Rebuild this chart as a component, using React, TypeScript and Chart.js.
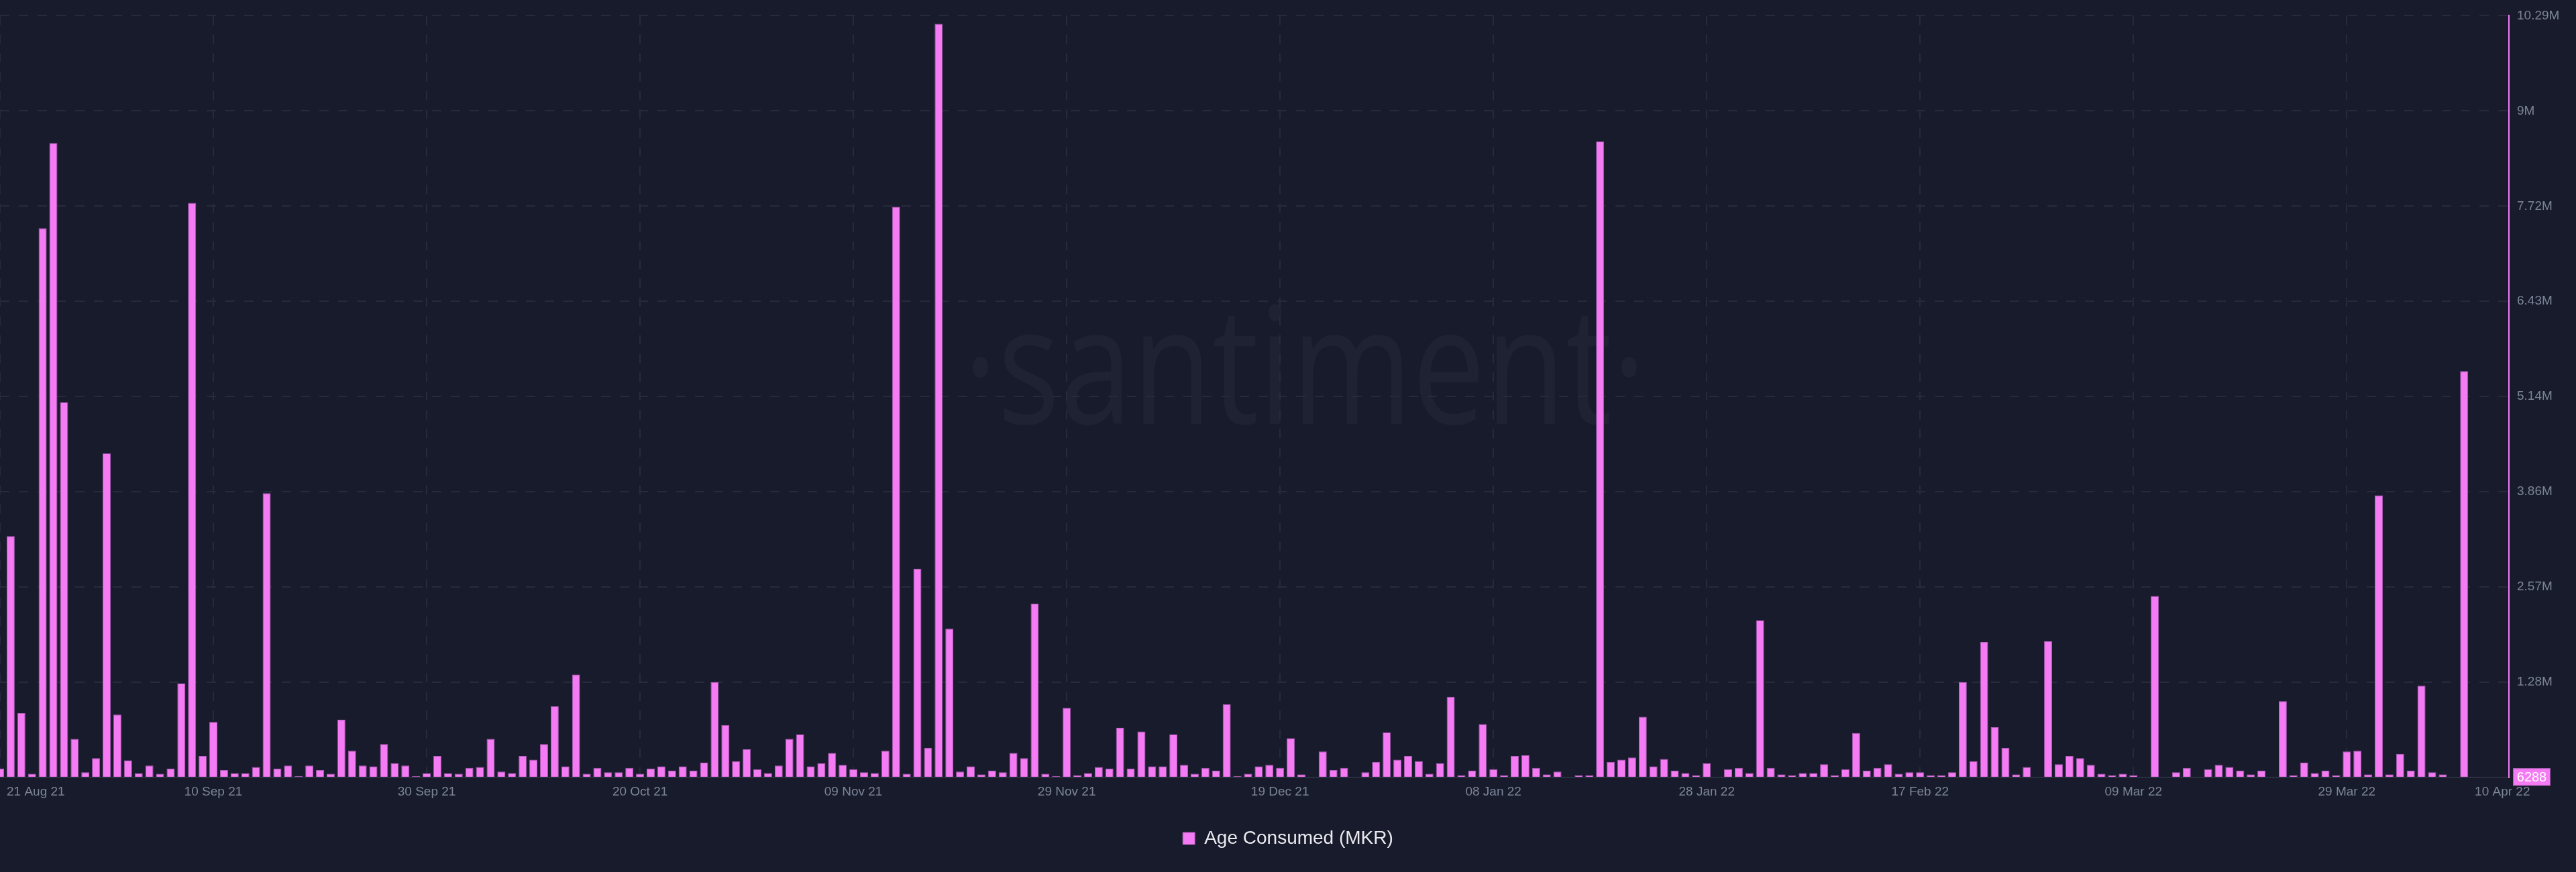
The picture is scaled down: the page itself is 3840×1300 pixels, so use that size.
import React, { useEffect, useRef } from 'react';
import { Chart, registerables } from 'chart.js';

Chart.register(...registerables);

// ---- data ----
const seriesLabel = 'Age Consumed (MKR)';
const startDate = '2021-08-21';

// daily Age Consumed (MKR), 21 Aug 21 .. 10 Apr 22
const ageConsumed: number[] = [
  120000, 3260000, 870000, 50000, 7420000, 8570000, 5070000, 520000, 70000, 260000,
  4380000, 850000, 230000, 55000, 160000, 50000, 120000, 1270000, 7760000, 290000,
  750000, 100000, 55000, 55000, 140000, 3840000, 120000, 160000, 20000, 160000,
  100000, 50000, 780000, 360000, 160000, 150000, 450000, 190000, 160000, 20000,
  55000, 290000, 55000, 50000, 130000, 140000, 520000, 80000, 60000, 290000,
  240000, 450000, 960000, 150000, 1390000, 50000, 130000, 70000, 70000, 130000,
  50000, 120000, 150000, 90000, 150000, 90000, 200000, 1290000, 710000, 220000,
  380000, 110000, 60000, 160000, 520000, 580000, 150000, 190000, 330000, 170000,
  110000, 70000, 60000, 360000, 7710000, 50000, 2820000, 400000, 10180000, 2010000,
  80000, 150000, 40000, 90000, 70000, 330000, 260000, 2350000, 50000, 20000,
  940000, 30000, 60000, 140000, 120000, 670000, 120000, 620000, 150000, 150000,
  580000, 170000, 50000, 130000, 90000, 990000, 20000, 50000, 150000, 170000,
  130000, 530000, 40000, 10000, 350000, 100000, 130000, 10000, 70000, 210000,
  610000, 240000, 290000, 220000, 50000, 190000, 1090000, 30000, 90000, 720000,
  110000, 30000, 290000, 300000, 130000, 40000, 80000, 10000, 30000, 30000,
  8590000, 210000, 240000, 270000, 820000, 150000, 250000, 90000, 60000, 30000,
  190000, 10000, 110000, 130000, 60000, 2120000, 130000, 40000, 30000, 60000,
  60000, 180000, 30000, 110000, 600000, 90000, 130000, 180000, 50000, 70000,
  70000, 30000, 30000, 70000, 1290000, 220000, 1830000, 680000, 400000, 40000,
  140000, 10000, 1840000, 180000, 290000, 260000, 170000, 50000, 30000, 50000,
  30000, 10000, 2450000, 10000, 70000, 130000, 10000, 110000, 170000, 140000,
  90000, 40000, 90000, 10000, 1030000, 30000, 200000, 60000, 90000, 30000,
  350000, 360000, 40000, 3810000, 40000, 320000, 90000, 1240000, 70000, 40000,
  10000, 5490000, 6288,
];

// x-axis ticks (day index from start) and their labels
const xTickIndex = [0, 20, 40, 60, 80, 100, 120, 140, 160, 180, 200, 220, 232];
const xTickLabels = [
  '21 Aug 21', '10 Sep 21', '30 Sep 21', '20 Oct 21', '09 Nov 21', '29 Nov 21',
  '19 Dec 21', '08 Jan 22', '28 Jan 22', '17 Feb 22', '09 Mar 22', '29 Mar 22', '10 Apr 22',
];

// y-axis
const yMax = 10290000;
const yTickLabels = ['', '1.28M', '2.57M', '3.86M', '5.14M', '6.43M', '7.72M', '9M', '10.29M'];

// ---- styles ----
const BG = '#181b2b';
const PINK = '#f47bf4';
const BAR_BORDER = '#a45aae';
const GRID = '#262a3a';
const TICK = '#7b8598';
const WATERMARK = '#1f2233';
const FONT = "'Liberation Sans', Arial, Helvetica, sans-serif";

const backgroundPlugin = {
  id: 'bgWatermark',
  beforeDraw(chart: any) {
    const { ctx, width, height } = chart;
    ctx.save();
    ctx.fillStyle = BG;
    ctx.fillRect(0, 0, width, height);
    ctx.font = "243px 'Open Sans', sans-serif";
    ctx.fillStyle = WATERMARK;
    ctx.textAlign = 'center';
    ctx.textBaseline = 'alphabetic';
    const word = 'santiment';
    const w = ctx.measureText(word).width;
    const sx = 916 / w;
    ctx.translate(1945, 632);
    ctx.scale(sx, 1);
    ctx.fillText('\u00B7' + word + '\u00B7', 0, 0);
    ctx.restore();
  },
};

const labelAlignPlugin = {
  id: 'labelAlign',
  beforeDraw(chart: any) {
    const xs: any = chart.scales.x;
    if (!xs || xs.__patched) return;
    const orig = xs._computeLabelItems.bind(xs);
    xs._computeLabelItems = (ca: any) => {
      const items = orig(ca);
      if (items.length) {
        const first = items[0];
        first.options.textAlign = 'left';
        first.options.translation = [first.options.translation[0] + 10, first.options.translation[1]];
        const last = items[items.length - 1];
        last.options.textAlign = 'left';
      }
      return items;
    };
    xs._labelItems = null;
    xs.__patched = true;
  },
};

const lastValuePlugin = {
  id: 'lastValue',
  afterDraw(chart: any) {
    const { ctx, chartArea } = chart;
    const ys = chart.scales.y;
    const v = ageConsumed[ageConsumed.length - 1];
    const y = ys.getPixelForValue(v);
    const text = String(v);
    ctx.save();
    ctx.font = `20px ${FONT}`;
    const tw = ctx.measureText(text).width;
    const bw = Math.round(tw + 12);
    const bh = 26;
    const x = chartArea.right + 6;
    ctx.fillStyle = PINK;
    ctx.fillRect(x, y - bh / 2, bw, bh);
    ctx.strokeStyle = BAR_BORDER;
    ctx.lineWidth = 1;
    ctx.strokeRect(x + 0.5, y - bh / 2 + 0.5, bw - 1, bh - 1);
    ctx.fillStyle = '#ffffff';
    ctx.textAlign = 'center';
    ctx.textBaseline = 'middle';
    ctx.fillText(text, x + bw / 2, y + 1);
    ctx.restore();
  },
};

export default function App() {
  const ref = useRef<HTMLCanvasElement>(null);

  useEffect(() => {
    document.body.style.margin = '0';
    document.body.style.background = BG;
    const canvas = ref.current;
    if (!canvas) return;

    const start = new Date(startDate + 'T00:00:00Z');
    const dayNames = ageConsumed.map((_, i) => {
      const d = new Date(start.getTime() + i * 86400000);
      return d.toISOString().slice(0, 10);
    });

    const chart = new Chart(canvas, {
      type: 'bar',
      data: {
        labels: dayNames,
        datasets: [
          {
            label: seriesLabel,
            data: ageConsumed.map((v, i) => ({ x: i, y: v })),
            backgroundColor: PINK,
            borderColor: BAR_BORDER,
            borderWidth: 1,
            borderSkipped: 'bottom',
            barPercentage: 0.755,
            categoryPercentage: 1,
          },
        ],
      },
      options: {
        animation: false,
        responsive: false,
        devicePixelRatio: 1,
        layout: { padding: { top: 14, bottom: 26, left: 0, right: 0 } },
        plugins: {
          tooltip: { enabled: false },
          legend: {
            position: 'bottom',
            labels: {
              boxWidth: 18,
              boxHeight: 18,
              padding: 10,
              color: '#e8e8ee',
              font: { family: FONT, size: 28 },
            },
          },
        },
        scales: {
          x: {
            type: 'linear',
            offset: false,
            min: 0,
            max: ageConsumed.length - 1 + 3.2,
            afterBuildTicks: (scale: any) => {
              scale.ticks = xTickIndex.map((v) => ({ value: v }));
            },
            afterFit: (scale: any) => {
              scale.height = 67;
              scale.paddingLeft = 0;
              scale.paddingRight = 0;
            },
            ticks: {
              autoSkip: false,
              maxRotation: 0,
              align: 'inner',
              padding: 10,
              color: TICK,
              font: { family: FONT, size: 19 },
              callback: (_v: any, idx: number) => xTickLabels[idx],
            },
            grid: {
              offset: false,
              drawTicks: false,
              color: (c: any) => (c.tick && c.tick.value === xTickIndex[xTickIndex.length - 1] ? 'rgba(0,0,0,0)' : GRID),
              lineWidth: 2,
            },
            border: { display: true, color: '#2b2e3f', width: 2, dash: [14, 14] },
          },
          y: {
            position: 'right',
            min: 0,
            max: yMax,
            afterBuildTicks: (scale: any) => {
              scale.ticks = yTickLabels.map((_, k) => ({ value: (yMax * k) / (yTickLabels.length - 1) }));
            },
            afterFit: (scale: any) => {
              scale.width = 100;
            },
            ticks: {
              padding: 12,
              color: TICK,
              font: { family: FONT, size: 19 },
              callback: (_v: any, idx: number) => yTickLabels[idx],
            },
            grid: { drawTicks: false, color: GRID, lineWidth: 2 },
            border: { display: true, color: PINK, width: 2, dash: [14, 14] },
          },
        },
      },
      plugins: [backgroundPlugin, labelAlignPlugin, lastValuePlugin],
    } as any);

    return () => chart.destroy();
  }, []);

  return (
    <div style={{ width: 3840, height: 1300, background: BG }}>
      <canvas ref={ref} width={3840} height={1300} style={{ display: 'block', width: 3840, height: 1300 }} />
    </div>
  );
}
